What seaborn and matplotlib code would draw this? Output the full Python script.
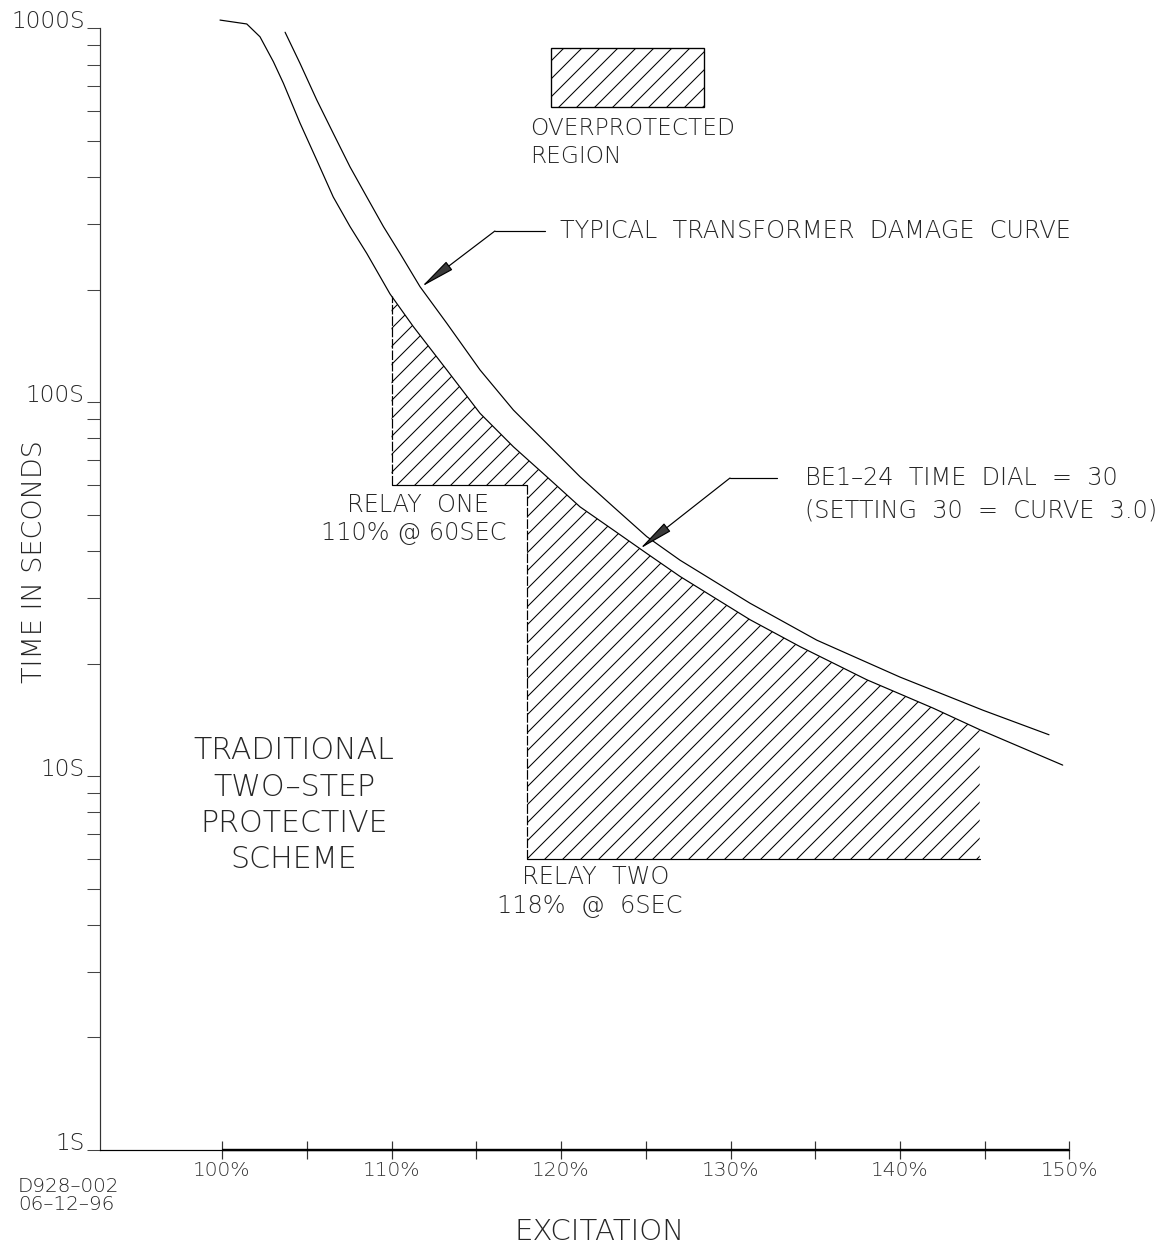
import numpy as np
import pandas as pd
import matplotlib
matplotlib.use("Agg")
import matplotlib.pyplot as plt
from matplotlib.patches import Rectangle
from matplotlib.ticker import FixedLocator, LogLocator, NullFormatter
import seaborn as sns

# ------------------------------
# Data
# ------------------------------

# BE1-24 relay curve (time dial 30)
relay_pct = [99.88, 101.46, 102.24, 103.03, 103.62, 104.60, 105.59, 106.56, 107.55, 108.54,
             109.91, 111.29, 113.26, 115.22, 117.19, 119.16, 121.12, 123.09, 125.06, 127.02,
             131.15, 134.10, 138.04, 141.95, 144.72, 149.60]
relay_sec = [1052, 1027, 949, 814, 713, 558, 444, 354, 295, 250,
             194.8, 159.2, 122, 93.4, 76.0, 63.2, 52.5, 45.5, 39.4, 34.2,
             26.2, 22.2, 18.1, 15.2, 13.3, 10.7]

# typical transformer damage curve
damage_pct = [103.72, 104.60, 105.59, 106.56, 107.55, 108.54, 109.52, 110.50, 111.68, 113.26,
              115.22, 117.19, 119.16, 121.12, 123.09, 125.06, 127.02, 131.15, 135.09, 140.0,
              144.90, 148.79]
damage_sec = [976, 806, 643, 524, 426, 354, 295, 250, 203.7, 162.6,
              122, 95.3, 77.6, 63.2, 52.5, 43.7, 37.8, 29.0, 23.1, 18.4,
              15.0, 12.9]

# two-step relay settings (pct, seconds) and end of the hatched region
relay_one = (110, 60)
relay_two = (118, 6)
hatch_end = 144.7

# legend box of the overprotected region
box_pct = (119.4, 128.45)
box_sec = (616, 885)

y_ticks = [1, 10, 100, 1000]
y_labels = ["1S", "10S", "100S", "1000S"]
x_ticks = list(range(100, 151, 5))
x_labels = [f"{t}%" if t % 10 == 0 else "" for t in x_ticks]

scheme_lines = ["TRADITIONAL", "TWO\u2013STEP", "PROTECTIVE", "SCHEME"]
scheme_sec = [11.74, 9.35, 7.45, 5.97]

# ------------------------------
# Figure
# ------------------------------

sns.set_theme(style="white")
plt.rcParams["font.family"] = ["DejaVu Sans"]
plt.rcParams["font.weight"] = "light"
plt.rcParams["hatch.linewidth"] = 0.7
plt.rcParams["hatch.color"] = "black"

INK = "#262626"
W, H, DPI = 1170, 1247, 108

fig = plt.figure(figsize=(W / DPI, H / DPI), dpi=DPI, facecolor="white")
ax = fig.add_axes([100 / W, 1 - 1150 / H, 969.5 / W, (1150 - 28.3) / H])
ax.set_facecolor("white")

relay_df = pd.DataFrame({"excitation": relay_pct, "seconds": relay_sec})
damage_df = pd.DataFrame({"excitation": damage_pct, "seconds": damage_sec})

sns.lineplot(data=relay_df, x="excitation", y="seconds", ax=ax, color="black",
             lw=0.8, sort=False, estimator=None)
sns.lineplot(data=damage_df, x="excitation", y="seconds", ax=ax, color="black",
             lw=0.8, sort=False, estimator=None)
for ln in ax.lines:
    ln.set_clip_on(False)

ax.set_yscale("log")
ax.set_xlim(92.8, 150)
ax.set_ylim(1, 1000)


def relay_at(p):
    return 10 ** np.interp(p, relay_pct, np.log10(relay_sec))


# hatched relay region below the relay curve
top_x = [relay_one[0]] + [p for p in relay_pct if relay_one[0] < p < hatch_end] + [hatch_end]
top_y = [relay_at(p) for p in top_x]
poly_x = [relay_one[0]] + top_x + [hatch_end, relay_two[0], relay_two[0]]
poly_y = [relay_one[1]] + top_y + [relay_two[1], relay_two[1], relay_one[1]]
ax.fill(poly_x, poly_y, facecolor="none", edgecolor="black", hatch="//", lw=0)

ax.plot([relay_one[0], relay_two[0]], [relay_one[1], relay_one[1]], color="black", lw=0.8)
ax.plot([relay_two[0], hatch_end], [relay_two[1], relay_two[1]], color="black", lw=0.8)
ax.plot([relay_one[0], relay_one[0]], [relay_one[1], relay_at(relay_one[0])],
        color="black", lw=0.8, ls=(0, (8, 1.5)))
ax.plot([relay_two[0], relay_two[0]], [relay_two[1], relay_one[1]],
        color="black", lw=0.8, ls=(0, (8, 1.5)))

# legend box
ax.add_patch(Rectangle((box_pct[0], box_sec[0]), box_pct[1] - box_pct[0],
                       box_sec[1] - box_sec[0], facecolor="none", edgecolor="black",
                       hatch="//", lw=0.9))
ax.text(118.17, 538, "OVERPROTECTED", fontsize=15.5, color=INK, va="center", ha="left")
ax.text(118.17, 453, "REGION", fontsize=15.5, color=INK, va="center", ha="left")

# leaders with arrow heads
arrow = dict(arrowstyle="-|>,head_length=20,head_width=3", mutation_scale=1,
             shrinkA=0, shrinkB=0, lw=0.8, ec="black", fc="#3a3a3a")

ax.annotate("", xy=(111.78, 203.7), xytext=(116.1, 287), arrowprops=arrow)
ax.plot([116.1, 119.06], [287, 287], color="black", lw=0.8)
ax.text(119.94, 287, "TYPICAL  TRANSFORMER  DAMAGE  CURVE", fontsize=16, color=INK,
        va="center", ha="left")

ax.annotate("", xy=(124.66, relay_at(124.66)), xytext=(129.97, 62.7), arrowprops=arrow)
ax.plot([129.97, 132.74], [62.7, 62.7], color="black", lw=0.8)
ax.text(134.4, 62.7, "BE1\u201324  TIME  DIAL  =  30", fontsize=16, color=INK,
        va="center", ha="left")
ax.text(134.4, 51.2, "(SETTING  30  =  CURVE  3.0)", fontsize=16, color=INK,
        va="center", ha="left")

ax.text(111.56, 53.1, "RELAY  ONE", fontsize=16, color=INK, va="center", ha="center")
ax.text(111.3, 44.7, "110% @ 60SEC", fontsize=16, color=INK, va="center", ha="center")
ax.text(122.06, 5.37, "RELAY  TWO", fontsize=16, color=INK, va="center", ha="center")
ax.text(121.7, 4.49, "118%  @  6SEC", fontsize=16, color=INK, va="center", ha="center")

for line, sec in zip(scheme_lines, scheme_sec):
    ax.text(104.25, sec, line, fontsize=20, color=INK, va="center", ha="center")

# ------------------------------
# Axes styling
# ------------------------------

for side in ["top", "right"]:
    ax.spines[side].set_visible(False)
ax.spines["left"].set_color("#333333")
ax.spines["left"].set_linewidth(0.8)
ax.spines["bottom"].set_color("black")
ax.spines["bottom"].set_linewidth(0.8)
ax.plot([100, 150], [1, 1], color="black", lw=1.6, clip_on=False, solid_capstyle="butt")

ax.yaxis.set_major_locator(FixedLocator(y_ticks))
ax.yaxis.set_minor_locator(LogLocator(base=10, subs=np.arange(2, 10)))
ax.yaxis.set_minor_formatter(NullFormatter())
ax.set_yticklabels(y_labels, va="baseline")
ax.tick_params(axis="y", which="both", left=True, direction="out", length=8.7, width=0.7,
               color="#444444", pad=1.5, labelsize=15.5, labelcolor=INK)

ax.set_xticks(x_ticks)
ax.set_xticklabels(x_labels)
ax.tick_params(axis="x", bottom=True, direction="inout", length=12, width=0.8,
               color="#333333", pad=1, labelsize=13.5, labelcolor="#333333")
ax.set_xlabel("")
ax.set_ylabel("")
ax.grid(False)

fig.text(35 / W, 1 - 562 / H, "TIME IN SECONDS", rotation=90, fontsize=18, color=INK,
         ha="center", va="center")
fig.text(600 / W, 1 - 1232 / H, "EXCITATION", fontsize=19.5, color=INK,
         ha="center", va="center")
fig.text(18 / W, 1 - 1186 / H, "D928\u2013002", fontsize=13.3, color=INK,
         ha="left", va="center")
fig.text(18 / W, 1 - 1205 / H, "06\u201312\u201396", fontsize=13.3, color=INK,
         ha="left", va="center")

fig.savefig("out.png", dpi=DPI, facecolor="white")
